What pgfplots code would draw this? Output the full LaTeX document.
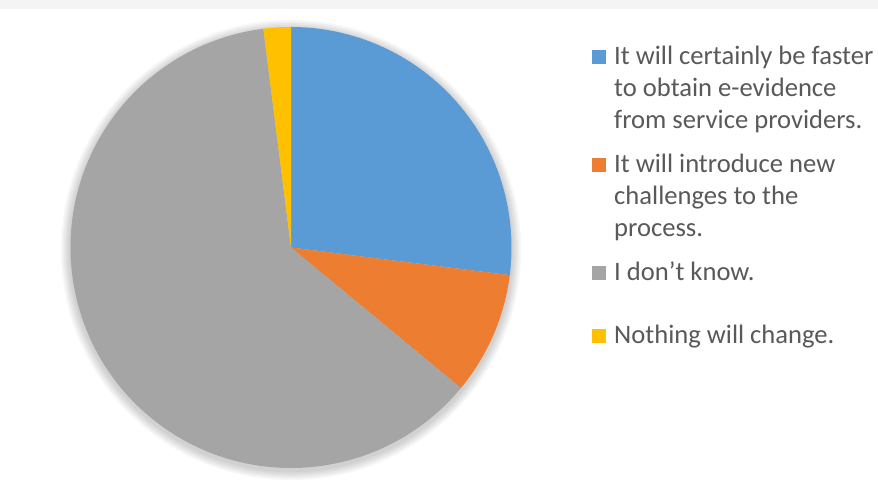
\documentclass[border=0pt]{standalone}
\usepackage{pgfplots}
\pgfplotsset{compat=1.18}
\usepackage{pgfplotstable}
\usepackage{fontspec}
\setmainfont{Carlito}

\definecolor{pieblue}{HTML}{5B9BD5}
\definecolor{pieorange}{HTML}{ED7D31}
\definecolor{piegray}{HTML}{A5A5A5}
\definecolor{pieyellow}{HTML}{FFC000}
\definecolor{txtgray}{HTML}{595959}
\definecolor{bandgray}{HTML}{F4F4F4}

% share of answers in percent, clockwise from 12 o'clock
\pgfplotstableread{
label  pct  col
faster 27   pieblue
new    9    pieorange
dunno  62   piegray
same   2    pieyellow
}\piedata

\begin{document}
\begin{tikzpicture}
\begin{axis}[
    scale only axis,
    width=439pt, height=240pt,
    xmin=0, xmax=878, ymin=0, ymax=480,
    axis line style={draw=none},
    xtick=\empty, ytick=\empty,
    axis background/.style={fill=white},
    legend cell align=left,
    legend style={
        at={(axis description cs:0.6743,0.914)}, anchor=north west,
        draw=none, fill=none, inner sep=0pt,
        nodes={inner sep=0pt, text depth=, text=txtgray},
        cells={anchor=base west},
        font=\fontsize{13.3}{16}\selectfont,
        row sep=6pt, column sep=4pt,
    },
]
% top band and soft shadow
\fill[bandgray] (axis cs:0,471) rectangle (axis cs:878,480);
\pgfplotsforeachungrouped \r in {1,...,6}{
    \pgfmathsetmacro\rr{110.25+\r*0.8}
    \edef\temp{\noexpand\fill[black, opacity=0.03] (axis cs:291,230) circle[radius=\rr pt];}
    \temp
}
\pgfmathsetmacro\cum{90}
\pgfplotsforeachungrouped \i in {0,...,3}{
    \pgfplotstablegetelem{\i}{pct}\of\piedata \let\p\pgfplotsretval
    \pgfplotstablegetelem{\i}{col}\of\piedata \let\c\pgfplotsretval
    \pgfmathsetmacro\endang{\cum-3.6*\p}
    \edef\temp{\noexpand\fill[\c] (axis cs:291,232.5) -- ++(\cum:110.25pt)
        arc[start angle=\cum, end angle=\endang, radius=110.25pt] -- cycle;}
    \temp
    \global\let\cum\endang
}
\addlegendimage{legend image code/.code={\fill[pieblue] (0pt,0.5pt) rectangle (6.5pt,7pt);}}
\addlegendentry{\begin{tabular}[t]{@{}l@{}}It will certainly be faster\\to obtain e-evidence\\from service providers.\end{tabular}}
\addlegendimage{legend image code/.code={\fill[pieorange] (0pt,0.5pt) rectangle (6.5pt,7pt);}}
\addlegendentry{\begin{tabular}[t]{@{}l@{}}It will introduce new\\challenges to the\\process.\end{tabular}}
\addlegendimage{legend image code/.code={\fill[piegray] (0pt,0.5pt) rectangle (6.5pt,7pt);}}
\addlegendentry{\begin{tabular}[t]{@{}l@{}}I don’t know.\rule[-14.3pt]{0pt}{1pt}\end{tabular}}
\addlegendimage{legend image code/.code={\fill[pieyellow] (0pt,0.5pt) rectangle (6.5pt,7pt);}}
\addlegendentry{\begin{tabular}[t]{@{}l@{}}Nothing will change.\end{tabular}}
\end{axis}
\end{tikzpicture}
\end{document}
